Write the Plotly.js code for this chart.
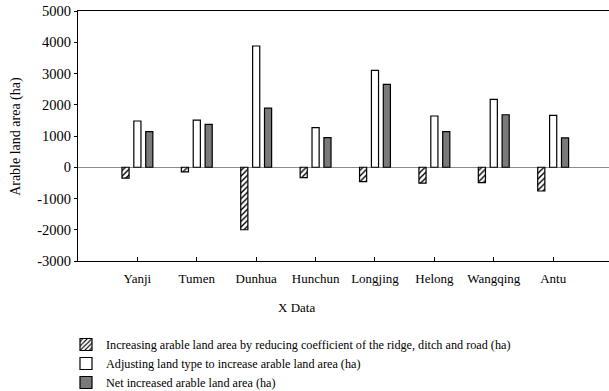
<!DOCTYPE html>
<html>
<head>
<meta charset="utf-8">
<script src="https://cdn.plot.ly/plotly-3.0.1.min.js"></script>
<style>html,body{margin:0;padding:0;background:#fff;}#chart{width:609px;height:391px;}</style>
</head>
<body>
<div id="chart"></div>
<script>
var categories = ["Yanji", "Tumen", "Dunhua", "Hunchun", "Longjing", "Helong", "Wangqing", "Antu"];
var reducingCoefficient = [-350, -150, -2000, -330, -460, -510, -490, -760];
var adjustingLandType = [1480, 1510, 3880, 1270, 3100, 1640, 2170, 1660];
var netIncreased = [1140, 1370, 1890, 950, 2650, 1140, 1680, 940];
var seriesNames = [
  "Increasing arable land area by reducing coefficient of the ridge, ditch and road (ha)",
  "Adjusting land type to increase arable land area (ha)",
  "Net increased arable land area (ha)"
];
var yTickVals = [-3000, -2000, -1000, 0, 1000, 2000, 3000, 4000, 5000];
var xTitle = "X Data";
var yTitle = "Arable land area (ha)";

var fam = "'Liberation Serif', 'Times New Roman', serif";
function f(size) { return {family: fam, size: size, color: "#000"}; }

var traces = [
  {type: "bar", name: seriesNames[0], x: categories, y: reducingCoefficient,
   marker: {color: "#fff", line: {color: "#000", width: 1.2},
            pattern: {shape: "/", fgcolor: "#000", bgcolor: "#fff", size: 4, solidity: 0.35}}},
  {type: "bar", name: seriesNames[1], x: categories, y: adjustingLandType,
   marker: {color: "#fff", line: {color: "#000", width: 1.2}}},
  {type: "bar", name: seriesNames[2], x: categories, y: netIncreased,
   marker: {color: "#7a7a7a", line: {color: "#000", width: 1.2}}}
];

var layout = {
  width: 609, height: 391,
  margin: {l: 78, r: 0, t: 11, b: 130, autoexpand: false},
  paper_bgcolor: "#fff", plot_bgcolor: "#fff",
  font: f(12),
  barmode: "group", bargap: 0.4, bargroupgap: 0.4,
  showlegend: true,
  legend: {x: 66 / 609, xref: "container", xanchor: "left", y: 61 / 391, yref: "container", yanchor: "top",
           font: f(12.2), bgcolor: "rgba(0,0,0,0)", tracegroupgap: 0, itemwidth: 30},
  xaxis: {type: "category", range: [-1, 7.94], showline: true, linecolor: "#000", linewidth: 1,
          mirror: true, ticks: "inside", ticklen: 4, tickcolor: "#000", showgrid: false,
          zeroline: false, tickfont: f(13), automargin: false, ticklabelstandoff: 5},
  yaxis: {range: [-3000, 5000], tickvals: yTickVals, ticktext: yTickVals.map(String),
          showline: true, linecolor: "#000", linewidth: 1, mirror: false,
          ticks: "outside", ticklen: 3, tickcolor: "#000", showgrid: false,
          zeroline: true, zerolinecolor: "#8c8c8c", zerolinewidth: 1, tickfont: f(14.5),
          automargin: false},
  annotations: [
    {text: xTitle, xref: "paper", yref: "paper", x: 0.411, y: -0.184, xanchor: "center", yanchor: "middle",
     showarrow: false, font: f(13)},
    {text: yTitle, xref: "paper", yref: "paper", x: -0.117, y: 0.5, xanchor: "center", yanchor: "middle",
     textangle: -90, showarrow: false, font: f(14)}
  ]
};

Plotly.newPlot("chart", traces, layout, {displayModeBar: false, staticPlot: true});
</script>
</body>
</html>
